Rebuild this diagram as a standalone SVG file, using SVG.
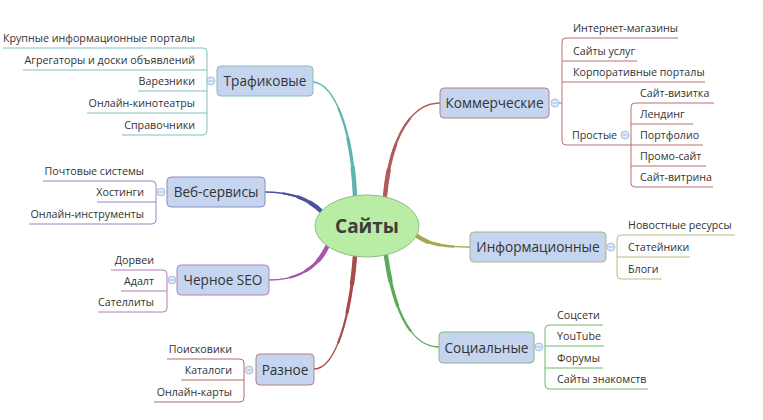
<svg xmlns="http://www.w3.org/2000/svg" xmlns:xlink="http://www.w3.org/1999/xlink" width="763" height="420" viewBox="0 0 763 420">
<style>
text{font-family:"Open Sans","Noto Sans","DejaVu Sans",sans-serif;fill:#333}
.sub{font-size:10.7px}
.subL{font-size:10.7px;text-anchor:end}
.main{font-size:13.6px;text-anchor:middle}
.box{fill:#c5d5ef;stroke-width:1}
.ln{fill:none;stroke-width:1}
.tog{fill:#dfe9f8;stroke:#a9bfe2;stroke-width:1}
.tm{stroke:#a9bfe2;stroke-width:1}
.c{fill:none;stroke-linecap:round}
.w1{stroke-width:1.3}
.w2{stroke-width:2.2;stroke-dasharray:70 200}
.w3{stroke-width:3.2;stroke-dasharray:45 200}
.w4{stroke-width:4.4;stroke-dasharray:22 200}
</style>
<defs>
<path id="pT" pathLength="100" d="M355,196 C352,130 335,84 313,82"/>
<path id="pK" pathLength="100" d="M385,196 C390,140 410,103 440,103"/>
<path id="pW" pathLength="100" d="M321,211 C307,198 290,192 265,192"/>
<path id="pS" pathLength="100" d="M327,247 C318,266 300,280 269,280"/>
<path id="pR" pathLength="100" d="M355,256 C350,320 335,369 314,369"/>
<path id="pI" pathLength="100" d="M417,236 C430,245 445,247 470,247"/>
<path id="pC" pathLength="100" d="M386,256 C395,320 415,347 439,347"/>
</defs>
<rect width="763" height="420" fill="#ffffff"/>
<g id="connectors">
<g class="c" stroke="#5fb3ad"><use xlink:href="#pT" class="w1"/><use xlink:href="#pT" class="w2"/><use xlink:href="#pT" class="w3"/><use xlink:href="#pT" class="w4"/></g>
<g class="c" stroke="#b35a5a"><use xlink:href="#pK" class="w1"/><use xlink:href="#pK" class="w2"/><use xlink:href="#pK" class="w3"/><use xlink:href="#pK" class="w4"/></g>
<g class="c" stroke="#4d519f"><use xlink:href="#pW" class="w1"/><use xlink:href="#pW" class="w2"/><use xlink:href="#pW" class="w3"/><use xlink:href="#pW" class="w4"/></g>
<g class="c" stroke="#a955ab"><use xlink:href="#pS" class="w1"/><use xlink:href="#pS" class="w2"/><use xlink:href="#pS" class="w3"/><use xlink:href="#pS" class="w4"/></g>
<g class="c" stroke="#a84a4a"><use xlink:href="#pR" class="w1"/><use xlink:href="#pR" class="w2"/><use xlink:href="#pR" class="w3"/><use xlink:href="#pR" class="w4"/></g>
<g class="c" stroke="#a9a652"><use xlink:href="#pI" class="w1"/><use xlink:href="#pI" class="w2"/><use xlink:href="#pI" class="w3"/><use xlink:href="#pI" class="w4"/></g>
<g class="c" stroke="#5aaa5a"><use xlink:href="#pC" class="w1"/><use xlink:href="#pC" class="w2"/><use xlink:href="#pC" class="w3"/><use xlink:href="#pC" class="w4"/></g>
</g>
<g id="center">
<ellipse cx="367" cy="226" rx="52" ry="31" fill="#b9eca4" stroke="#8fbf86" stroke-width="1"/>
<text x="367" y="233" text-anchor="middle" style="font-size:19px;font-weight:bold;fill:#3d3d3d">Сайты</text>
</g>
<g id="traffic">
<g class="ln" stroke="#7fc3bd">
<path d="M3,48 H203 Q207,48 207,52 V131 Q207,135 203,135 H122"/>
<path d="M23,70 H207"/><path d="M138,91 H207"/><path d="M87,113 H207"/>
</g>
<circle class="tog" cx="211" cy="81" r="4"/><line class="tm" x1="208.5" y1="81" x2="213.5" y2="81"/>
<rect class="box" x="217" y="66" width="96" height="30" rx="4" stroke="#8fb8b5"/>
<text class="main" x="265" y="86">Трафиковые</text>
<text class="subL" x="195" y="42">Крупные информационные порталы</text>
<text class="subL" x="195" y="64">Агрегаторы и доски объявлений</text>
<text class="subL" x="195" y="85">Варезники</text>
<text class="subL" x="195" y="107">Онлайн-кинотеатры</text>
<text class="subL" x="195" y="129">Справочники</text>
</g>
<g id="web">
<g class="ln" stroke="#8c8cc8">
<path d="M43,181 H152 Q156,181 156,185 V220 Q156,224 152,224 H29"/>
<path d="M97,202 H156"/>
</g>
<circle class="tog" cx="161" cy="192" r="4"/><line class="tm" x1="158.5" y1="192" x2="163.5" y2="192"/>
<rect class="box" x="167" y="177" width="98" height="30" rx="4" stroke="#8a8cc0"/>
<text class="main" x="216" y="197">Веб-сервисы</text>
<text class="subL" x="144" y="175">Почтовые системы</text>
<text class="subL" x="144" y="196">Хостинги</text>
<text class="subL" x="144" y="218">Онлайн-инструменты</text>
</g>
<g id="blackseo">
<g class="ln" stroke="#b77ab8">
<path d="M111,270 H163 Q167,270 167,274 V308 Q167,312 163,312 H98"/>
<path d="M121,291 H167"/>
</g>
<circle class="tog" cx="172" cy="280" r="4"/><line class="tm" x1="169.5" y1="280" x2="174.5" y2="280"/>
<rect class="box" x="177" y="265" width="92" height="30" rx="4" stroke="#b184b2"/>
<text class="main" x="223" y="285">Черное SEO</text>
<text class="subL" x="154" y="264">Дорвеи</text>
<text class="subL" x="154" y="285">Адалт</text>
<text class="subL" x="154" y="306">Сателлиты</text>
</g>
<g id="misc">
<g class="ln" stroke="#b76a6a">
<path d="M167,359 H240 Q244,359 244,363 V398 Q244,402 240,402 H154"/>
<path d="M181,380 H244"/>
</g>
<circle class="tog" cx="249" cy="370" r="4"/><line class="tm" x1="246.5" y1="370" x2="251.5" y2="370"/>
<rect class="box" x="256" y="354" width="58" height="31" rx="4" stroke="#b58080"/>
<text class="main" x="285" y="374.5">Разное</text>
<text class="subL" x="232" y="353">Поисковики</text>
<text class="subL" x="232" y="374">Каталоги</text>
<text class="subL" x="232" y="396">Онлайн-карты</text>
</g>
<g id="commercial">
<g class="ln" stroke="#b87070">
<path d="M678,38 H566 Q562,38 562,42 V141 Q562,145 566,145 H631"/>
<path d="M562,61 H637"/><path d="M562,82 H705"/>
<path d="M714,103 H635 Q631,103 631,107 V183 Q631,187 635,187 H713"/>
<path d="M631,124 H693"/><path d="M631,145 H703"/><path d="M631,166 H706"/>
</g>
<circle class="tog" cx="555" cy="103" r="4"/><line class="tm" x1="552.5" y1="103" x2="557.5" y2="103"/>
<line x1="559" y1="103" x2="562" y2="103" stroke="#b87070"/>
<rect class="box" x="440" y="88" width="109" height="30" rx="4" stroke="#b58080"/>
<text class="main" x="494.5" y="108">Коммерческие</text>
<text class="sub" x="573" y="32">Интернет-магазины</text>
<text class="sub" x="573" y="55">Сайты услуг</text>
<text class="sub" x="573" y="76">Корпоративные порталы</text>
<text class="sub" x="572" y="139">Простые</text>
<circle class="tog" cx="625" cy="135" r="4"/><line class="tm" x1="622.5" y1="135" x2="627.5" y2="135"/>
<text class="sub" x="640" y="97">Сайт-визитка</text>
<text class="sub" x="640" y="118">Лендинг</text>
<text class="sub" x="640" y="139">Портфолио</text>
<text class="sub" x="640" y="160">Промо-сайт</text>
<text class="sub" x="640" y="181">Сайт-витрина</text>
</g>
<g id="info">
<g class="ln" stroke="#bdbb78">
<path d="M735,235 H621 Q617,235 617,239 V275 Q617,279 621,279 H662"/>
<path d="M617,257 H690"/>
</g>
<circle class="tog" cx="611" cy="247" r="4"/><line class="tm" x1="608.5" y1="247" x2="613.5" y2="247"/>
<rect class="box" x="470" y="232" width="136" height="30" rx="4" stroke="#b0ae88"/>
<text class="main" x="538" y="252">Информационные</text>
<text class="sub" x="628" y="229">Новостные ресурсы</text>
<text class="sub" x="628" y="251">Статейники</text>
<text class="sub" x="628" y="273">Блоги</text>
</g>
<g id="social">
<g class="ln" stroke="#6cba6c">
<path d="M603,325 H549 Q545,325 545,329 V385 Q545,389 549,389 H648"/>
<path d="M545,346 H604"/><path d="M545,368 H603"/>
</g>
<circle class="tog" cx="539" cy="347" r="4"/><line class="tm" x1="536.5" y1="347" x2="541.5" y2="347"/>
<rect class="box" x="439" y="332" width="95" height="31" rx="4" stroke="#86b486"/>
<text class="main" x="486.5" y="352.5">Социальные</text>
<text class="sub" x="557" y="319">Соцсети</text>
<text class="sub" x="557" y="340">YouTube</text>
<text class="sub" x="557" y="362">Форумы</text>
<text class="sub" x="557" y="383">Сайты знакомств</text>
</g>
</svg>
